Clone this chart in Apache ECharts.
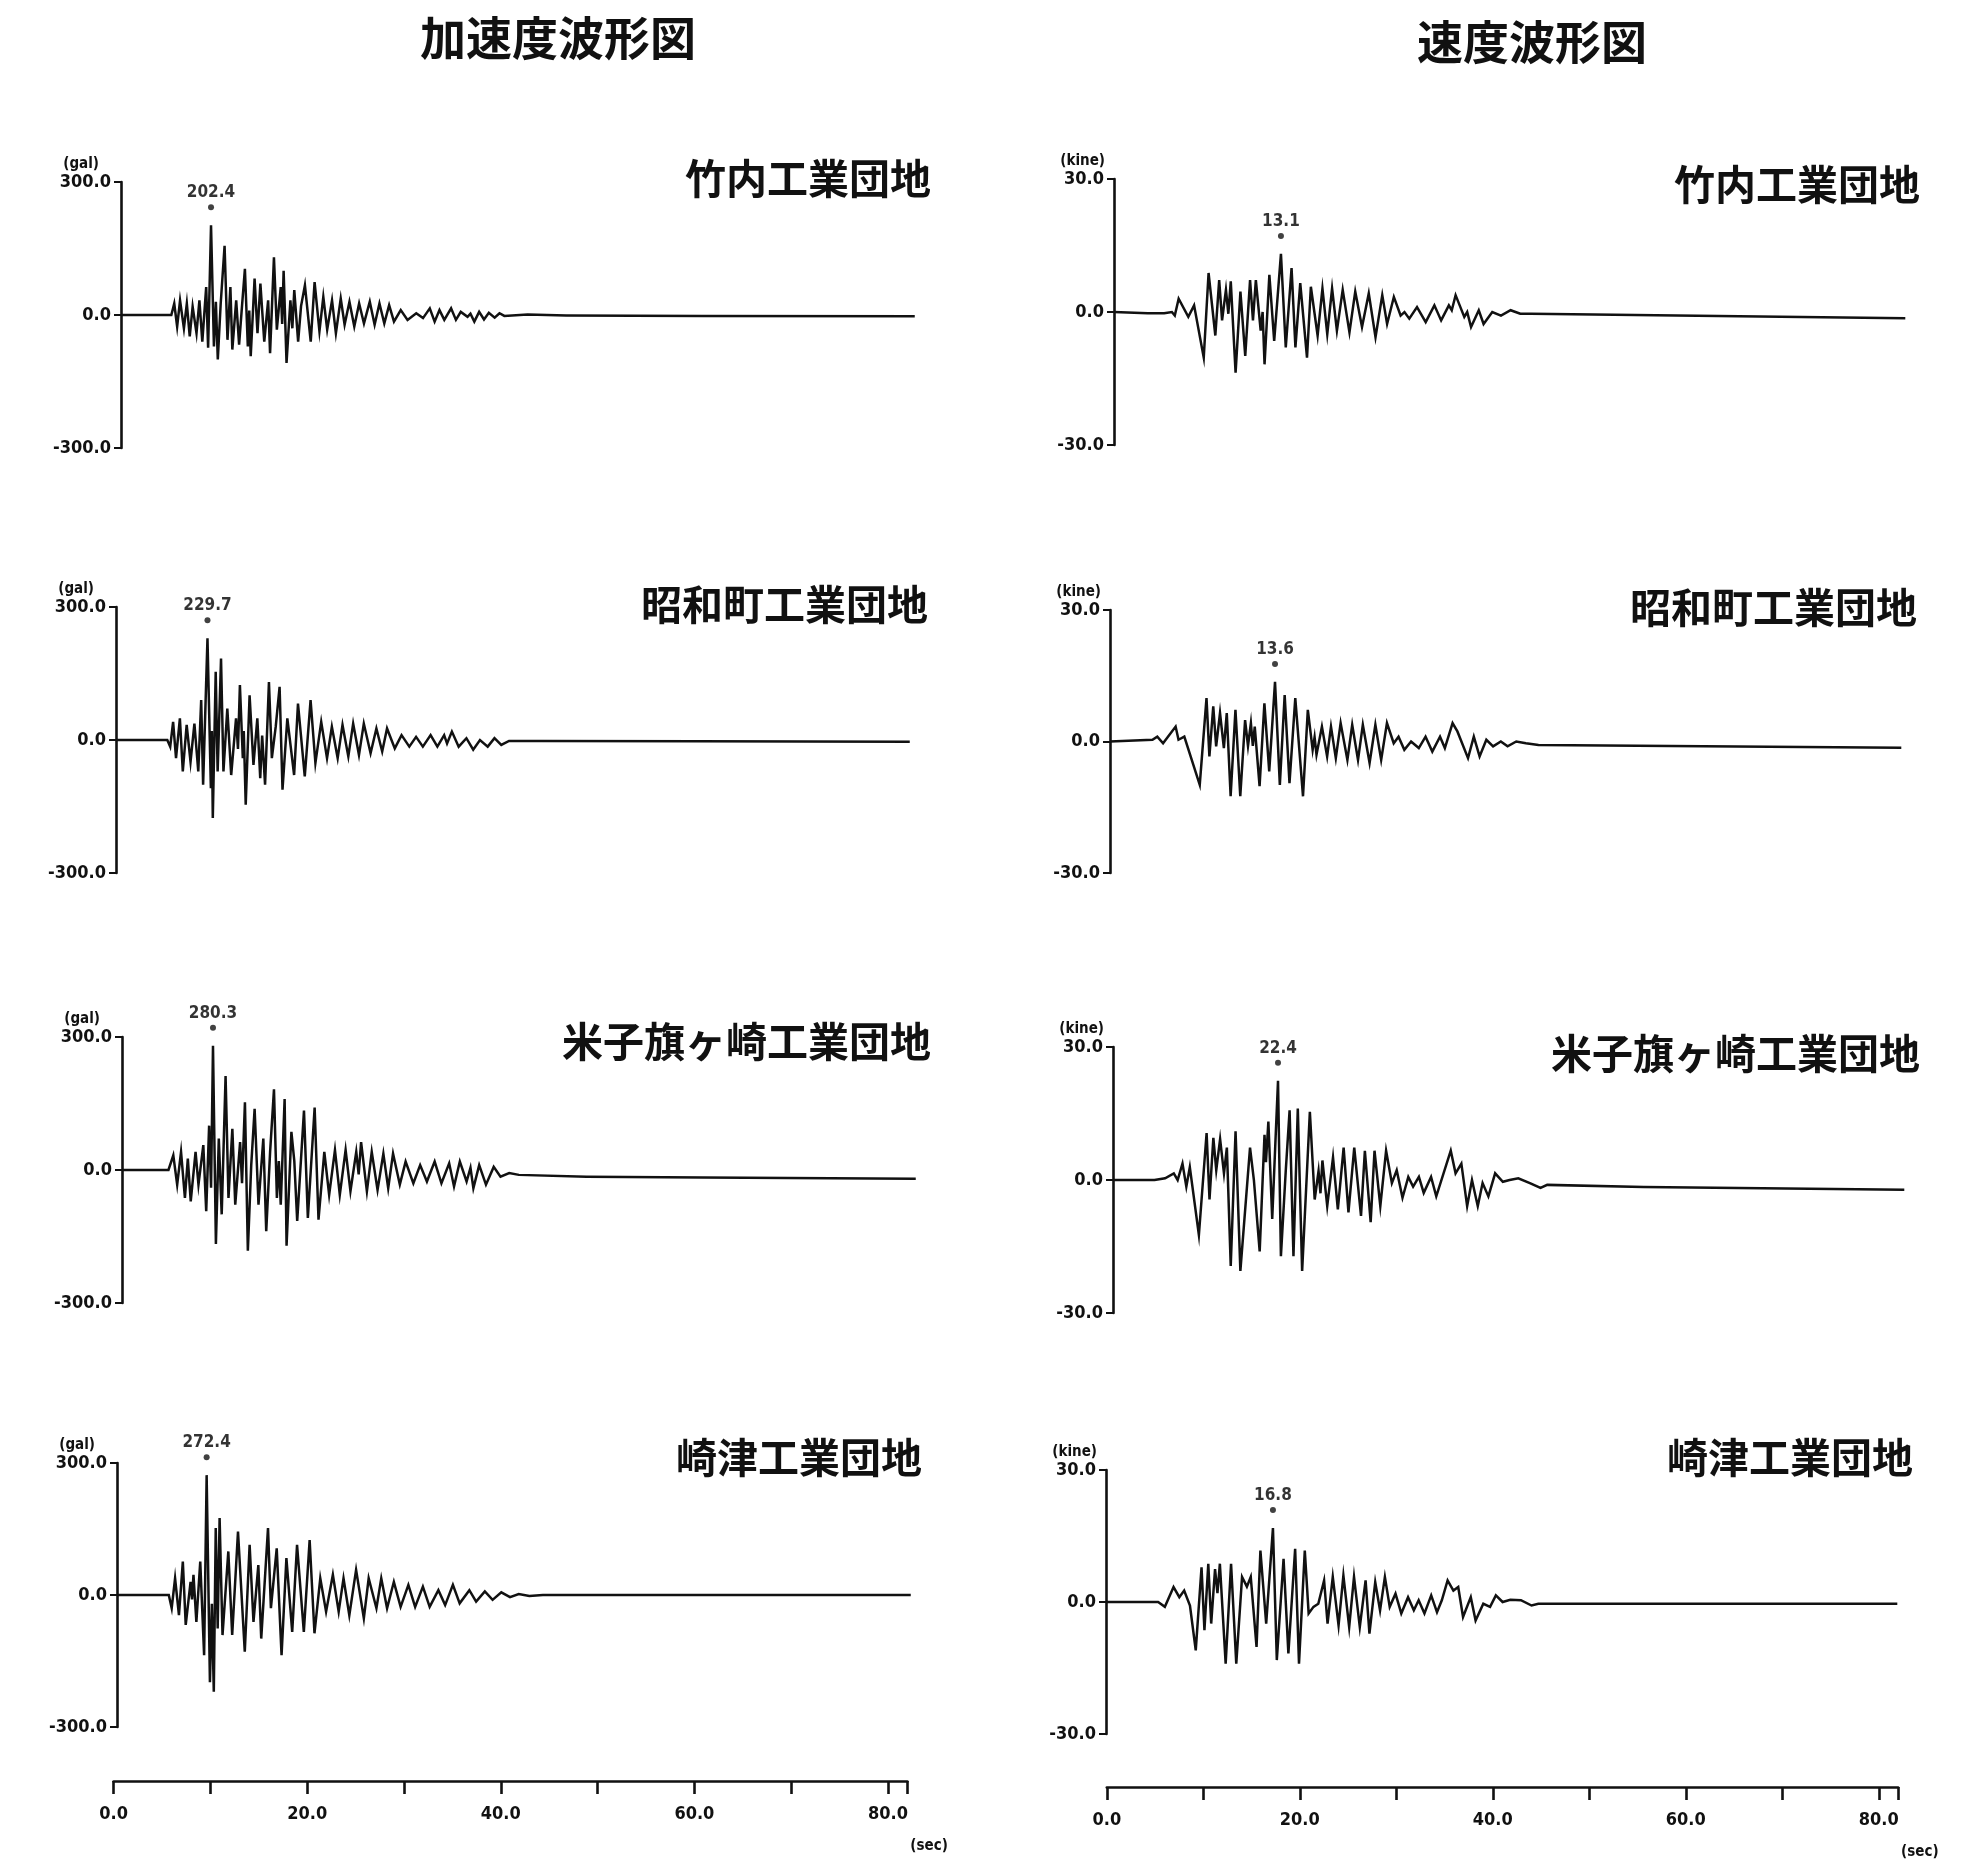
<!DOCTYPE html>
<html><head><meta charset="utf-8">
<script src="https://cdn.jsdelivr.net/npm/echarts@6.0.0/dist/echarts.min.js"></script>
<style>html,body{margin:0;padding:0;background:#fff}#c{width:1980px;height:1861px}</style>
</head><body><div id="c"></div>
<script>
// ---------- DATA ----------
const stations = ['竹内工業団地', '昭和町工業団地', '米子旗ヶ崎工業団地', '崎津工業団地'];
const accPeakLabels = ['202.4', '229.7', '280.3', '272.4'];
const accPeakTimes = [9.3, 9.45, 9.4, 9.26];
const velPeakLabels = ['13.1', '13.6', '22.4', '16.8'];
const velPeakTimes = [17.3, 17.1, 17.1, 17.3];
const timeTickLabels = [0, 20, 40, 60, 80];
const accRange = 300;
const velRange = 30;

// acceleration waveforms [sec, gal]
const acc1 = [[0,0],[5.2,0],[5.5,26],[5.8,-26],[6.1,33],[6.5,-30],[6.8,26],[7.1,-48],[7.4,19],[7.8,-41],[8.1,33],[8.4,-60],[8.8,63],[9.0,-74],[9.3,202.4],[9.6,-71],[9.8,30],[10.0,-100],[10.3,26],[10.7,156],[11.0,-56],[11.3,63],[11.5,-78],[11.9,33],[12.2,-67],[12.5,20],[12.8,104],[13.1,-71],[13.25,10],[13.4,-93],[13.8,82],[14.1,-41],[14.4,71],[14.8,-60],[15.2,33],[15.4,-86],[15.8,130],[16.1,-33],[16.5,63],[16.65,-20],[16.8,100],[17.1,-108],[17.5,33],[17.7,-30],[17.9,56],[18.3,-60],[18.6,20],[19.0,67],[19.6,-60],[20.0,74],[20.5,-37],[20.9,41],[21.3,-33],[21.8,33],[22.2,-41],[22.7,37],[23.1,-22],[23.6,30],[24.1,-26],[24.6,26],[25.1,-19],[25.7,30],[26.2,-22],[26.7,26],[27.2,-19],[27.7,22],[28.2,-15],[28.9,11],[29.6,-11],[30.5,4],[31.2,-7],[31.9,15],[32.4,-15],[32.9,11],[33.4,-11],[34.1,15],[34.6,-11],[35.1,7],[35.8,-4],[36.1,3],[36.5,-15],[37.0,7],[37.5,-10],[38.0,5],[38.6,-6],[39.1,4],[39.6,-2],[42,1],[46,-1],[60,-2],[82,-3]];
const acc2 = [[0,0],[5.3,0],[5.6,-15],[5.9,41],[6.2,-41],[6.6,49],[6.9,-71],[7.3,34],[7.7,-49],[8.1,37],[8.5,-71],[8.8,90],[9.0,-101],[9.45,229.7],[9.8,-109],[9.9,20],[10.0,-176],[10.3,154],[10.5,-71],[10.85,184],[11.1,-71],[11.5,71],[11.9,-79],[12.4,49],[12.6,-20],[12.8,124],[13.1,-41],[13.2,20],[13.4,-146],[13.8,101],[14.2,-56],[14.6,49],[14.9,-86],[15.1,10],[15.4,-101],[15.8,131],[16.1,-41],[16.5,30],[16.9,120],[17.2,-112],[17.7,49],[18.4,-79],[18.8,82],[19.5,-82],[20.1,90],[20.6,-52],[21.2,41],[21.8,-41],[22.3,30],[22.9,-41],[23.4,34],[24.0,-37],[24.5,37],[25.1,-34],[25.6,37],[26.3,-30],[26.9,26],[27.5,-26],[28.0,26],[28.8,-19],[29.5,11],[30.3,-15],[31.0,7],[31.7,-15],[32.5,11],[33.2,-15],[33.9,11],[34.2,-8],[34.7,19],[35.4,-15],[36.2,4],[36.9,-22],[37.6,0],[38.4,-15],[39.1,4],[39.8,-11],[40.6,-2],[44,-2],[60,-3],[82,-4]];
const acc3 = [[0,0],[4.8,0],[5.3,33],[5.7,-33],[6.1,41],[6.5,-63],[6.8,26],[7.1,-71],[7.6,41],[7.9,-33],[8.4,56],[8.7,-93],[9.0,100],[9.2,-40],[9.4,280.3],[9.7,-167],[10.0,71],[10.3,-100],[10.7,212],[11.0,-63],[11.4,93],[11.7,-78],[12.2,63],[12.4,-30],[12.7,153],[13.0,-182],[13.35,11],[13.7,138],[14.1,-78],[14.6,71],[14.9,-138],[15.3,41],[15.7,182],[16.0,-63],[16.2,20],[16.4,-78],[16.8,160],[17.0,-171],[17.5,86],[17.8,20],[18.1,-115],[18.8,134],[19.2,-108],[19.9,141],[20.3,-112],[20.9,41],[21.4,-56],[22.0,45],[22.5,-56],[23.1,45],[23.6,-48],[24.2,41],[24.45,-10],[24.7,63],[25.3,-48],[25.8,41],[26.4,-45],[27.0,37],[27.5,-41],[28.0,37],[28.7,-33],[29.3,19],[30.1,-30],[30.8,11],[31.5,-26],[32.3,19],[33.0,-30],[33.8,15],[34.3,-37],[34.9,19],[35.6,-26],[36.0,5],[36.3,-41],[36.9,11],[37.6,-33],[38.4,7],[39.1,-15],[40.0,-7],[41,-11],[48,-15],[60,-17],[82,-20]];
const acc4 = [[0,0],[5.35,0],[5.65,-30],[6.0,38],[6.4,-46],[6.8,76],[7.1,-68],[7.6,30],[7.75,-10],[7.9,46],[8.2,-61],[8.6,76],[9.0,-137],[9.26,272.4],[9.6,-198],[9.8,-20],[10.0,-220],[10.2,152],[10.4,-76],[10.6,175],[10.9,-91],[11.5,99],[11.9,-91],[12.5,144],[13.2,-129],[13.7,114],[14.1,-61],[14.6,68],[14.9,-99],[15.6,152],[15.9,-30],[16.5,106],[17.0,-137],[17.5,84],[18.1,-84],[18.6,114],[19.3,-84],[19.9,125],[20.4,-87],[21.0,38],[21.6,-38],[22.3,46],[22.9,-38],[23.4,38],[24.0,-46],[24.7,57],[25.5,-53],[26.0,38],[26.8,-30],[27.3,38],[27.9,-30],[28.6,30],[29.3,-27],[30.1,23],[30.8,-27],[31.6,19],[32.3,-27],[33.2,11],[33.9,-23],[34.7,23],[35.4,-19],[36.4,11],[37.1,-15],[38.0,8],[38.8,-11],[39.7,6],[40.6,-5],[41.5,2],[42.6,-2],[44,0],[82,0]];

// velocity waveforms [sec, kine]
const vel1 = [[0,0],[3.5,-0.3],[5.2,-0.3],[6.0,0],[6.3,-0.8],[6.7,3.0],[7.7,-1.1],[8.3,1.5],[9.3,-10.3],[9.8,8.8],[10.5,-5.3],[10.9,7.2],[11.2,-1.9],[11.6,5.0],[11.85,-0.4],[12.1,6.9],[12.6,-13.7],[13.1,4.6],[13.6,-9.9],[14.1,7.2],[14.4,-1.9],[14.7,7.2],[15.2,-4.2],[15.4,0],[15.6,-11.8],[16.1,8.4],[16.6,-6.5],[17.3,13.1],[17.8,-8.0],[18.4,9.9],[18.8,-8.0],[19.3,6.5],[20.0,-10.3],[20.4,5.7],[21.1,-5.3],[21.6,5.3],[22.1,-5.0],[22.6,5.3],[23.1,-4.2],[23.7,5.0],[24.4,-4.6],[25.0,4.6],[25.7,-3.4],[26.4,4.2],[27.1,-5.7],[27.8,3.8],[28.3,-2.7],[29.0,3.4],[29.7,-0.8],[30.1,0],[30.6,-1.5],[31.4,1.1],[32.3,-2.3],[33.2,1.5],[33.9,-1.9],[34.7,1.5],[35.0,0.4],[35.4,3.8],[36.3,-1.1],[36.6,0],[37.0,-3.4],[37.8,0.4],[38.3,-2.7],[39.2,0],[40.1,-0.8],[41.1,0.4],[42.1,-0.4],[43.2,-0.4],[82,-1.4]];
const vel2 = [[0,0],[4.4,0.4],[4.9,1.1],[5.5,-0.4],[6.8,3.4],[7.1,0.4],[7.7,1.1],[9.3,-9.9],[10.0,9.9],[10.3,-3.4],[10.7,8.0],[11.0,-1.1],[11.4,6.5],[11.8,-1.5],[12.1,6.5],[12.5,-12.5],[13.0,7.2],[13.5,-12.5],[14.0,4.9],[14.3,-1.0],[14.6,4.2],[14.8,-1.0],[15.0,3.4],[15.5,-10.2],[16.0,8.7],[16.5,-6.8],[17.1,13.6],[17.6,-9.9],[18.1,10.6],[18.6,-9.5],[19.2,9.9],[20.0,-12.5],[20.5,7.2],[21.0,-1.9],[21.2,1.0],[21.4,-3.0],[21.96,3.4],[22.5,-3.4],[22.9,3.4],[23.4,-3.8],[23.9,4.2],[24.6,-4.2],[25.1,3.8],[25.7,-4.2],[26.2,3.8],[26.9,-4.9],[27.5,3.8],[28.1,-4.2],[28.7,4.2],[29.4,-0.4],[29.9,1.1],[30.5,-1.9],[31.2,0],[32.0,-1.5],[32.7,1.1],[33.4,-2.3],[34.2,1.1],[34.7,-1.5],[35.5,4.2],[36.0,2.3],[37.1,-3.8],[37.7,1.1],[38.3,-3.4],[39.0,0.4],[39.7,-1.1],[40.5,0],[41.2,-1.1],[42.1,0],[43.1,-0.4],[44.4,-0.8],[82,-1.4]];
const vel3 = [[0,0],[4.3,0],[5.4,0.4],[6.3,1.5],[6.7,0],[7.2,3.7],[7.6,-1.5],[7.96,2.9],[8.9,-12.4],[9.7,10.6],[10.0,-4.4],[10.4,9.5],[10.7,2.2],[11.1,9.2],[11.5,1.5],[11.8,7.3],[12.2,-19.4],[12.7,11.0],[13.2,-20.5],[14.2,7.3],[14.6,0],[15.2,-16.1],[15.7,10.2],[15.85,4],[16.1,13.2],[16.5,-8.8],[16.8,7],[17.1,22.4],[17.4,-17.2],[17.9,2],[18.3,15.7],[18.7,-17.2],[19.15,16.1],[19.6,-20.5],[20.4,15.4],[20.9,-4.4],[21.3,2],[21.5,-3],[21.7,4.4],[22.2,-5.9],[22.8,5.1],[23.3,-6.6],[23.9,7.3],[24.4,-7.3],[25.0,7.3],[25.7,-8.1],[26.1,6.6],[26.7,-9.5],[27.1,6.6],[27.7,-5.9],[28.3,6.6],[28.9,-0.7],[29.4,2.2],[30.0,-4.0],[30.6,0.7],[31.1,-1.5],[31.7,0.7],[32.2,-2.9],[32.96,0.7],[33.5,-3.7],[35.0,6.6],[35.5,1.5],[36.1,3.7],[36.7,-5.9],[37.2,0],[37.8,-5.9],[38.3,-0.7],[38.9,-3.7],[39.6,1.5],[40.4,-0.4],[41.1,0],[42.0,0.4],[43.2,-0.7],[44.3,-1.8],[45,-1.1],[55,-1.6],[82,-2.2]];
const vel4 = [[0,0],[5.4,0],[6.1,-1.1],[7.0,3.4],[7.6,1.1],[8.1,2.6],[8.7,-0.8],[9.3,-11.0],[9.9,7.9],[10.2,-6.4],[10.6,8.7],[10.9,-4.9],[11.3,7.5],[11.55,2],[11.8,8.7],[12.4,-14.0],[12.96,8.7],[13.5,-14.0],[14.1,5.7],[14.6,3.5],[15.0,5.7],[15.6,-10.2],[16.0,11.7],[16.6,-4.9],[17.3,16.8],[17.7,-13.2],[18.4,9.8],[18.9,-11.7],[19.6,12.1],[20.0,-14.0],[20.6,11.7],[21.0,-2.6],[21.5,-1.1],[22.0,-0.4],[22.6,4.9],[22.96,-4.9],[23.5,5.7],[24.1,-5.3],[24.6,6.0],[25.2,-5.7],[25.7,5.7],[26.3,-5.7],[26.9,4.9],[27.3,-7.2],[27.9,4.5],[28.4,-1.9],[28.9,5.7],[29.4,-1.1],[30.0,1.9],[30.6,-2.6],[31.3,1.1],[31.9,-1.9],[32.4,0.4],[33.0,-2.6],[33.7,1.5],[34.3,-2.3],[34.8,0.4],[35.4,4.9],[36.0,2.6],[36.5,3.4],[37.0,-3.4],[37.8,1.1],[38.3,-4.2],[39.1,-0.4],[39.8,-1.1],[40.4,1.5],[41.1,0],[41.9,0.5],[43,0.4],[44.1,-0.8],[44.8,-0.4],[82,-0.4]];

const accWaves = [acc1, acc2, acc3, acc4];
const velWaves = [vel1, vel2, vel3, vel4];

// ---------- LAYOUT (pixels) ----------
const accPxPerSec = 9.68, velPxPerSec = 9.65, tEnd = 82;
const accLayout = [{l:121,t:182,h:266},{l:116,t:607,h:266},{l:122,t:1037,h:266},{l:117,t:1463,h:264}];
const velLayout = [{l:1114,t:179,h:266},{l:1110,t:610,h:263},{l:1113,t:1047,h:266},{l:1106,t:1470,h:264}];
const accStationPos = [[931,178],[928,604],[931,1041],[922,1457]];
const velStationPos = [[1920,184],[1917,607],[1920,1053],[1913,1457]];

const INK = '#111';
const numFont = "'Liberation Sans Narrow','DejaVu Sans Condensed','Liberation Sans',sans-serif";
const jpFont = "'Noto Sans CJK JP','Noto Sans CJK SC',sans-serif";

const grid = [], xAxis = [], yAxis = [], series = [];

function addPanel(lay, pxs, range, unit, namePad, wave, pT, pLabel) {
  const i = grid.length;
  grid.push({left: lay.l, top: lay.t, height: lay.h, width: tEnd * pxs});
  xAxis.push({gridIndex: i, type: 'value', min: 0, max: tEnd, show: false});
  yAxis.push({
    gridIndex: i, type: 'value', min: -range, max: range, interval: range,
    axisLine: {show: true, onZero: false, lineStyle: {color: INK, width: 2.6}},
    axisTick: {show: true, length: 7, lineStyle: {color: INK, width: 2}},
    axisLabel: {show: true, margin: 10, formatter: v => v.toFixed(1), color: INK, fontSize: 18, fontWeight: 'bold', fontFamily: numFont},
    splitLine: {show: false},
    name: unit, nameLocation: 'end', nameGap: 10,
    nameTextStyle: {align: 'right', padding: [0, namePad, 0, 0], fontSize: 15, fontWeight: 'bold', color: INK, fontFamily: numFont}
  });
  series.push({
    type: 'line', xAxisIndex: i, yAxisIndex: i, data: wave, showSymbol: false, symbol: 'none',
    lineStyle: {color: INK, width: 2.5, join: 'miter'}, animation: false, silent: true
  });
  series.push({
    type: 'scatter', xAxisIndex: i, yAxisIndex: i, data: [[pT, parseFloat(pLabel)]],
    symbol: 'circle', symbolSize: 6, symbolOffset: [0, -18], itemStyle: {color: INK}, animation: false, silent: true,
    label: {show: true, position: 'top', distance: 3, formatter: pLabel, fontSize: 17, fontWeight: 'bold', color: '#000', fontFamily: numFont}
  });
}

for (let k = 0; k < 4; k++) {
  addPanel(accLayout[k], accPxPerSec, accRange, '(gal)', 22, accWaves[k], accPeakTimes[k], accPeakLabels[k]);
  addPanel(velLayout[k], velPxPerSec, velRange, '(kine)', 9, velWaves[k], velPeakTimes[k], velPeakLabels[k]);
}

function addTimeAxis(left, top, pxs) {
  const i = grid.length;
  grid.push({left: left, top: top - 1, height: 1, width: tEnd * pxs});
  xAxis.push({
    gridIndex: i, type: 'value', min: 0, max: tEnd, interval: 10, position: 'bottom',
    axisLine: {show: true, onZero: false, lineStyle: {color: INK, width: 2.6}},
    axisTick: {show: true, length: 13, lineStyle: {color: INK, width: 2.6}},
    axisLabel: {margin: 24, color: INK, fontSize: 18, fontWeight: 'bold', fontFamily: numFont,
      formatter: v => timeTickLabels.includes(v) ? v.toFixed(1) : ''},
    splitLine: {show: false},
    name: '(sec)', nameLocation: 'end', nameGap: 3,
    nameTextStyle: {align: 'left', verticalAlign: 'top', padding: [58, 0, 0, 0], fontSize: 15, fontWeight: 'bold', color: INK, fontFamily: numFont}
  });
  yAxis.push({gridIndex: i, type: 'value', min: 0, max: 1, show: false});
}
addTimeAxis(113.6, 1781, accPxPerSec);
addTimeAxis(1106.8, 1787, velPxPerSec);

const graphic = [
  {type: 'text', x: 558, y: 38, style: {text: '加速度波形図', fill: INK, font: "bold 46px " + jpFont, align: 'center', verticalAlign: 'middle', textAlign: 'center', textVerticalAlign: 'middle'}},
  {type: 'text', x: 1532, y: 42, style: {text: '速度波形図', fill: INK, font: "bold 46px " + jpFont, align: 'center', verticalAlign: 'middle', textAlign: 'center', textVerticalAlign: 'middle'}}
];
for (let k = 0; k < 4; k++) {
  [[accStationPos[k]], [velStationPos[k]]].forEach(([p]) => {
    graphic.push({type: 'text', x: p[0], y: p[1], style: {text: stations[k], fill: INK, font: "bold 41px " + jpFont, align: 'right', verticalAlign: 'middle', textAlign: 'right', textVerticalAlign: 'middle'}});
  });
}

const chart = echarts.init(document.getElementById('c'), null, {renderer: 'canvas'});
chart.setOption({backgroundColor: '#fff', animation: false, grid, xAxis, yAxis, series, graphic});
</script>
</body></html>
